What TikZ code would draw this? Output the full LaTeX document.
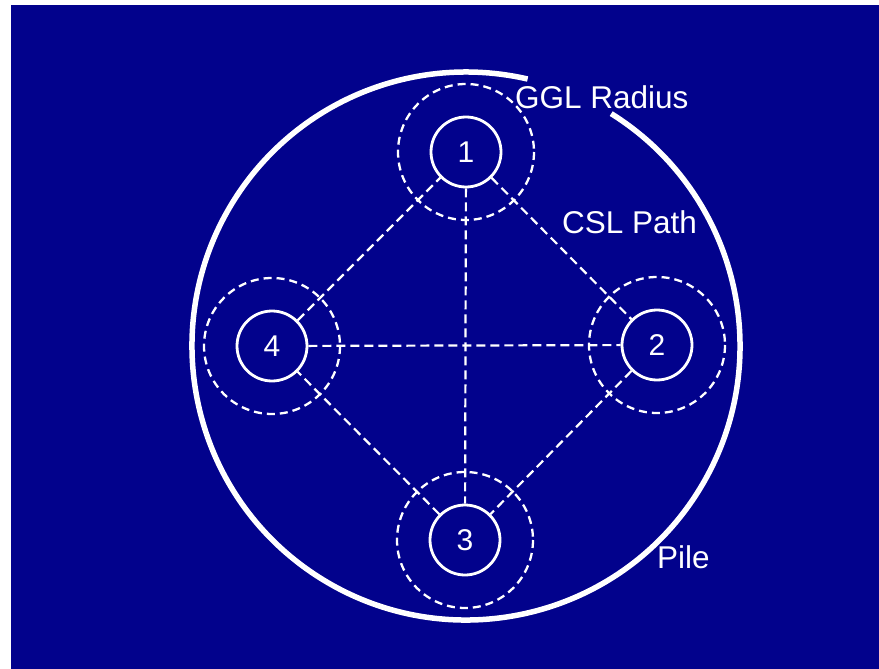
\documentclass[tikz,border=0pt]{standalone}
\usepackage{fontspec}
\setmainfont{Liberation Sans}
\usetikzlibrary{positioning}
\definecolor{pileblue}{RGB}{2,2,140}

\begin{document}
\begin{tikzpicture}[
    x=1pt, y=-1pt,
    col/.style={draw=white,circle,line width=2.8pt,minimum size=70pt,inner sep=0pt,
                font=\fontsize{30}{30}\selectfont,text=white},
    gglring/.style={draw=white,line width=2.3pt,dash pattern=on 8pt off 5pt},
    cslpath/.style={white,line width=2.2pt,dash pattern=on 9pt off 5pt},
    pilerim/.style={white,line width=5.5pt},
    lbl/.style={anchor=base west,inner sep=0pt,text=white,font=\fontsize{31.5}{31.5}\selectfont},
  ]

  % --- background ---
  \useasboundingbox (0,0) rectangle (879,669);
  \fill[white] (0,0) rectangle (879,669);
  \fill[pileblue] (11,5) rectangle (879,669);

  % --- pile centre and rim (gap for the label) ---
  \coordinate (pc) at (466,346);
  \draw[pilerim] (pc) ++(-58:274) arc[start angle=-58, end angle=283, radius=274];

  % --- columns ---
  \node[col] (c1) at (466,152) {1};
  \node[col] (c2) at (657,345) {2};
  \node[col] (c3) at (465,540) {3};
  \node[col] (c4) at (272,346) {4};

  % --- GGL rings ---
  \foreach \c in {c1,c2,c3,c4} {
    \draw[gglring] (\c) circle[radius=68];
  }

  % --- CSL paths ---
  \draw[cslpath] (c1) -- (c3);
  \draw[cslpath] (c4) -- (c2);
  \draw[cslpath] (c1) -- (c2);
  \draw[cslpath] (c2) -- (c3);
  \draw[cslpath] (c3) -- (c4);
  \draw[cslpath] (c4) -- (c1);

  % --- labels ---
  \node[lbl] (ggl)  at (515,108) {GGL Radius};
  \node[lbl] (csl)  at (562,233) {CSL Path};
  \node[lbl] (pile) at (657,568) {Pile};

\end{tikzpicture}
\end{document}
